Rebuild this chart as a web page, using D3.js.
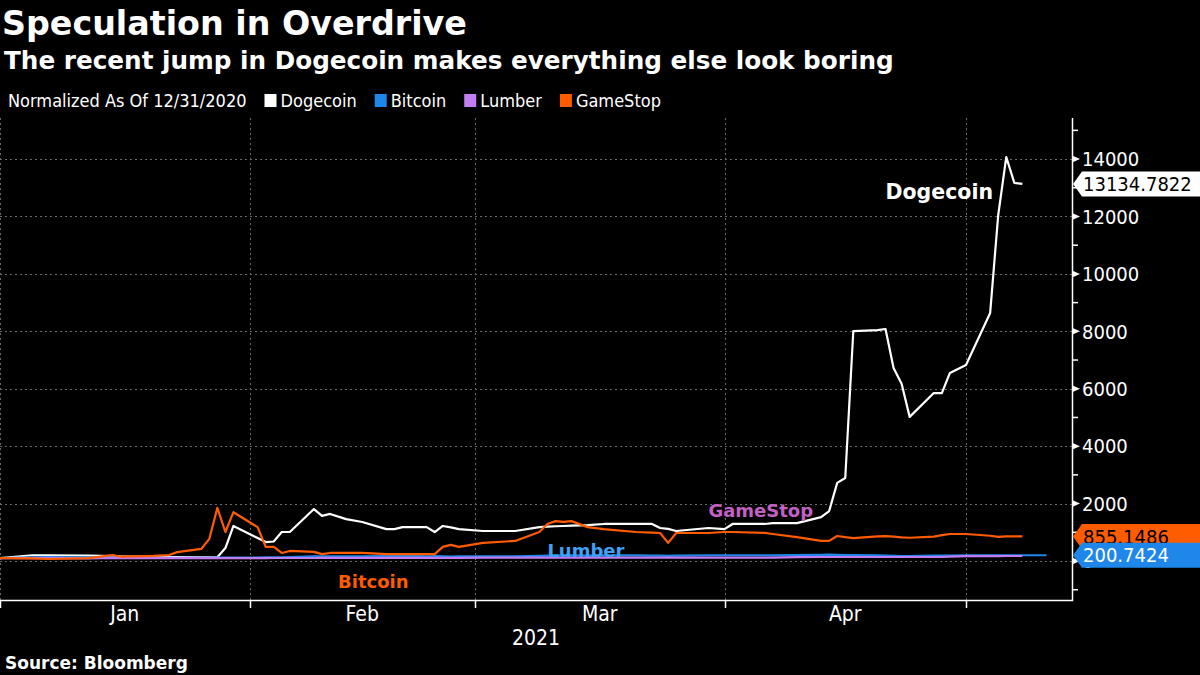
<!DOCTYPE html>
<html lang="en">
<head>
    <meta charset="UTF-8">
    <title>Speculation in Overdrive</title>
    <script src="https://d3js.org/d3.v7.min.js"></script>
    <style>
        html, body { margin: 0; padding: 0; background: #000; }
        svg { display: block; }
        .cond { font-family: "DejaVu Sans Condensed", "DejaVu Sans", sans-serif; }
        .bold { font-family: "DejaVu Sans", sans-serif; font-weight: bold; }
    </style>
</head>
<body>
<div id="chart"></div>
<script>
    // values are normalized to 100 as of 12/31/2020
    const dates = [
        "2021-01-01", "2021-01-05", "2021-01-07", "2021-01-12", "2021-01-15", "2021-01-16",
        "2021-01-20", "2021-01-22", "2021-01-23", "2021-01-26", "2021-01-27", "2021-01-28",
        "2021-01-29", "2021-01-30", "2021-02-02", "2021-02-03", "2021-02-04", "2021-02-05",
        "2021-02-06", "2021-02-09", "2021-02-10", "2021-02-11", "2021-02-13", "2021-02-15",
        "2021-02-18", "2021-02-19", "2021-02-20", "2021-02-23", "2021-02-24", "2021-02-25",
        "2021-02-26", "2021-02-27", "2021-03-02", "2021-03-06", "2021-03-09", "2021-03-10",
        "2021-03-11", "2021-03-12", "2021-03-13", "2021-03-15", "2021-03-17", "2021-03-21",
        "2021-03-23", "2021-03-24", "2021-03-25", "2021-03-26", "2021-03-30", "2021-04-01",
        "2021-04-02", "2021-04-06", "2021-04-07", "2021-04-10", "2021-04-13", "2021-04-14",
        "2021-04-15", "2021-04-16", "2021-04-17", "2021-04-20", "2021-04-21", "2021-04-22",
        "2021-04-23", "2021-04-24", "2021-04-27", "2021-04-28", "2021-04-29", "2021-05-01",
        "2021-05-04", "2021-05-05", "2021-05-06", "2021-05-07", "2021-05-08", "2021-05-11"
    ];

    const dogecoin = [
        100, 200, 200, 190, 170, 160,
        150, 140, 140, 130, 130, 130,
        450, 1220, 800, 660, 680, 1010,
        1010, 1810, 1570, 1640, 1460, 1360,
        1110, 1110, 1180, 1180, 1010, 1220,
        1170, 1110, 1045, 1045, 1180, 1200,
        1210, 1220, 1230, 1250, 1290, 1290,
        1290, 1150, 1120, 1045, 1150, 1110,
        1290, 1290, 1320, 1320, 1530, 1740,
        2720, 2890, 8010, 8040, 8080, 6720,
        6170, 5020, 5850, 5850, 6550, 6830,
        8640, 12050, 14070, 13170, 13134.7822, null
    ];

    const bitcoin = [
        100, 130, 140, 130, 130, 130,
        120, 110, 110, 110, 110, 115,
        115, 115, 120, 125, 125, 130,
        135, 160, 160, 160, 165, 165,
        175, 180, 190, 165, 170, 160,
        155, 160, 165, 165, 180, 185,
        190, 195, 200, 190, 195, 200,
        190, 185, 180, 185, 200, 200,
        200, 200, 195, 205, 215, 220,
        215, 210, 210, 195, 190, 180,
        170, 170, 185, 190, 190, 195,
        195, 195, 195, 200, 200, 200.7424
    ];

    const lumber = [
        100, 100, 100, 95, 105, 100,
        100, 100, 100, 100, 100, 100,
        100, 100, 100, 100, 105, 105,
        105, 105, 110, 110, 110, 110,
        110, 110, 110, 110, 110, 110,
        110, 110, 115, 115, 115, 115,
        115, 115, 115, 115, 115, 115,
        115, 115, 115, 115, 115, 115,
        115, 115, 120, 135, 140, 140,
        140, 140, 140, 140, 140, 140,
        140, 140, 140, 140, 150, 170,
        170, 170, 175, 175, 175, null
    ];

    const gamestop = [
        100, 90, 70, 100, 210, 150,
        180, 210, 310, 420, 770, 1850,
        1010, 1700, 1180, 490, 490, 280,
        350, 320, 240, 280, 280, 280,
        240, 240, 240, 240, 240, 490,
        560, 490, 630, 700, 1010, 1290,
        1390, 1360, 1390, 1180, 1110, 1010,
        990, 975, 630, 975, 975, 1010,
        1010, 980, 940, 830, 700, 700,
        870, 830, 800, 860, 870, 850,
        820, 810, 850, 900, 940, 940,
        880, 840, 855, 855, 855.1486, null
    ];

    const seriesNames = ["Dogecoin", "Bitcoin", "Lumber", "GameStop"];
    const seriesValues = [dogecoin, bitcoin, lumber, gamestop];
    const seriesColors = ["#ffffff", "#1f87ea", "#c27cf2", "#ff5c00"];

    const yTickValues = [0, 2000, 4000, 6000, 8000, 10000, 12000, 14000];
    const yMinorValues = [-1000, 1000, 3000, 5000, 7000, 9000, 11000, 13000, 15000];
    const monthStarts = ["2021-01-01", "2021-02-01", "2021-03-01", "2021-04-01", "2021-05-01"];
    const monthLabels = ["Jan", "Feb", "Mar", "Apr"];

    // in-chart labels, anchored in data space
    const annotations = [
        { text: "Dogecoin", date: "2021-04-21", value: 12600, color: "#ffffff", size: 20.5 },
        { text: "GameStop", date: "2021-03-30", value: 1530, color: "#c261c4", size: 18 },
        { text: "Lumber", date: "2021-03-10", value: 140, color: "#3fa0f5", size: 18 },
        { text: "Bitcoin", date: "2021-02-12", value: -950, color: "#ff5c00", size: 18 }
    ];

    const width = 1200;
    const height = 675;
    const plot = { left: 0, right: 1072, top: 118, bottom: 600 };

    const parseDate = d3.timeParse("%Y-%m-%d");

    const svg = d3.select("#chart")
        .append("svg")
        .attr("width", width)
        .attr("height", height)
        .style("background", "#000");

    const xScale = d3.scaleTime()
        .domain([new Date(2021, 0, 1), new Date(2021, 4, 14, 4)])
        .range([plot.left, plot.right]);

    const yScale = d3.scaleLinear()
        .domain([-1358, 15430])
        .range([plot.bottom, plot.top]);

    // titles
    svg.append("text")
        .attr("class", "bold")
        .attr("x", 2).attr("y", 35)
        .attr("font-size", 33.3)
        .attr("fill", "#fff")
        .text("Speculation in Overdrive");

    svg.append("text")
        .attr("class", "bold")
        .attr("x", 4).attr("y", 69)
        .attr("font-size", 24.7)
        .attr("fill", "#fff")
        .text("The recent jump in Dogecoin makes everything else look boring");

    // legend row
    const legend = svg.append("g").attr("class", "cond").attr("font-size", 18).attr("fill", "#fff");
    let lx = 8;
    const lead = legend.append("text").attr("x", lx).attr("y", 107).text("Normalized As Of 12/31/2020");
    lx += lead.node().getComputedTextLength() + 18;
    seriesNames.forEach((name, i) => {
        legend.append("rect")
            .attr("x", lx).attr("y", 94)
            .attr("width", 12).attr("height", 13)
            .attr("fill", seriesColors[i]);
        const t = legend.append("text").attr("x", lx + 16).attr("y", 107).text(name);
        lx += 16 + t.node().getComputedTextLength() + 18;
    });

    // grid
    const grid = svg.append("g")
        .attr("stroke", "#6a6a6a")
        .attr("stroke-width", 1)
        .attr("stroke-dasharray", "2,3");

    grid.selectAll("line.h")
        .data(yTickValues)
        .join("line")
        .attr("class", "h")
        .attr("x1", plot.left).attr("x2", plot.right)
        .attr("y1", d => Math.round(yScale(d)) + 0.5)
        .attr("y2", d => Math.round(yScale(d)) + 0.5);

    grid.selectAll("line.v")
        .data(monthStarts)
        .join("line")
        .attr("class", "v")
        .attr("x1", d => Math.round(xScale(parseDate(d))) + 0.5)
        .attr("x2", d => Math.round(xScale(parseDate(d))) + 0.5)
        .attr("y1", plot.top).attr("y2", plot.bottom);

    // lines
    svg.append("clipPath").attr("id", "plot-clip")
        .append("rect")
        .attr("x", plot.left).attr("y", plot.top)
        .attr("width", plot.right - plot.left)
        .attr("height", plot.bottom - plot.top);

    const lineGen = d3.line()
        .defined(d => d.value !== null)
        .x(d => xScale(d.date))
        .y(d => yScale(d.value));

    const lines = svg.append("g").attr("clip-path", "url(#plot-clip)");
    seriesValues.forEach((values, i) => {
        const points = dates.map((d, j) => ({ date: parseDate(d), value: values[j] }));
        lines.append("path")
            .datum(points)
            .attr("d", lineGen)
            .attr("fill", "none")
            .attr("stroke", seriesColors[i])
            .attr("stroke-width", 2.2)
            .attr("stroke-linejoin", "round");
    });

    // right axis
    const axisR = svg.append("g");
    axisR.append("line")
        .attr("x1", plot.right + 0.5).attr("x2", plot.right + 0.5)
        .attr("y1", plot.top).attr("y2", plot.bottom + 1)
        .attr("stroke", "#fff").attr("stroke-width", 1.5);

    axisR.selectAll("path.major")
        .data(yTickValues)
        .join("path")
        .attr("class", "major")
        .attr("d", d => {
            const y = yScale(d);
            return `M${plot.right},${y - 3.5}L${plot.right + 8},${y}L${plot.right},${y + 3.5}Z`;
        })
        .attr("fill", "#fff");

    axisR.selectAll("line.minor")
        .data(yMinorValues)
        .join("line")
        .attr("class", "minor")
        .attr("x1", plot.right).attr("x2", plot.right + 6)
        .attr("y1", d => yScale(d)).attr("y2", d => yScale(d))
        .attr("stroke", "#fff").attr("stroke-width", 1.5);

    axisR.selectAll("text")
        .data(yTickValues)
        .join("text")
        .attr("class", "cond")
        .attr("x", plot.right + 10)
        .attr("y", d => yScale(d))
        .attr("dy", "0.36em")
        .attr("font-size", 20)
        .attr("fill", "#fff")
        .text(d => d);

    // bottom axis
    const axisB = svg.append("g");
    axisB.append("line")
        .attr("x1", plot.left).attr("x2", plot.right + 1)
        .attr("y1", plot.bottom + 0.5).attr("y2", plot.bottom + 0.5)
        .attr("stroke", "#fff").attr("stroke-width", 1.5);

    axisB.selectAll("line.tick")
        .data(monthStarts)
        .join("line")
        .attr("class", "tick")
        .attr("x1", d => Math.round(xScale(parseDate(d))) + 0.5)
        .attr("x2", d => Math.round(xScale(parseDate(d))) + 0.5)
        .attr("y1", plot.bottom).attr("y2", plot.bottom + 8)
        .attr("stroke", "#fff").attr("stroke-width", 1.5);

    axisB.selectAll("text.month")
        .data(monthLabels)
        .join("text")
        .attr("class", "month cond")
        .attr("x", (d, i) => (xScale(parseDate(monthStarts[i])) + xScale(parseDate(monthStarts[i + 1]))) / 2)
        .attr("y", 621)
        .attr("text-anchor", "middle")
        .attr("font-size", 21)
        .attr("fill", "#fff")
        .text(d => d);

    axisB.append("text")
        .attr("class", "cond")
        .attr("x", (plot.left + plot.right) / 2)
        .attr("y", 645)
        .attr("text-anchor", "middle")
        .attr("font-size", 21)
        .attr("fill", "#fff")
        .text("2021");

    // annotations
    svg.append("g").selectAll("text")
        .data(annotations)
        .join("text")
        .attr("class", "bold")
        .attr("x", d => xScale(parseDate(d.date)))
        .attr("y", d => yScale(d.value))
        .attr("font-size", d => d.size)
        .attr("fill", d => d.color)
        .text(d => d.text);

    // last-value tags on the right axis (blue sits over orange, as in the original)
    function lastPoint(values) {
        for (let j = values.length - 1; j >= 0; j--) {
            if (values[j] !== null) return values[j];
        }
        return null;
    }

    const tags = [
        { value: lastPoint(gamestop), fill: "#ff5c00", color: "#000" },
        { value: lastPoint(bitcoin), fill: "#1f87ea", color: "#fff" },
        { value: lastPoint(dogecoin), fill: "#ffffff", color: "#000" }
    ];

    const tagG = svg.append("g");
    tags.forEach(t => {
        const cy = yScale(t.value);
        const g = tagG.append("g");
        g.append("path")
            .attr("d", `M${plot.right + 1},${cy}L${plot.right + 10},${cy - 12.5}L${width},${cy - 12.5}L${width},${cy + 12.5}L${plot.right + 10},${cy + 12.5}Z`)
            .attr("fill", t.fill);
        g.append("text")
            .attr("class", "cond")
            .attr("x", plot.right + 11)
            .attr("y", cy)
            .attr("dy", "0.36em")
            .attr("font-size", 20)
            .attr("fill", t.color)
            .text(t.value);
    });

    // source
    svg.append("text")
        .attr("class", "bold")
        .attr("x", 5).attr("y", 669)
        .attr("font-size", 17)
        .attr("fill", "#fff")
        .text("Source: Bloomberg");
</script>
</body>
</html>
